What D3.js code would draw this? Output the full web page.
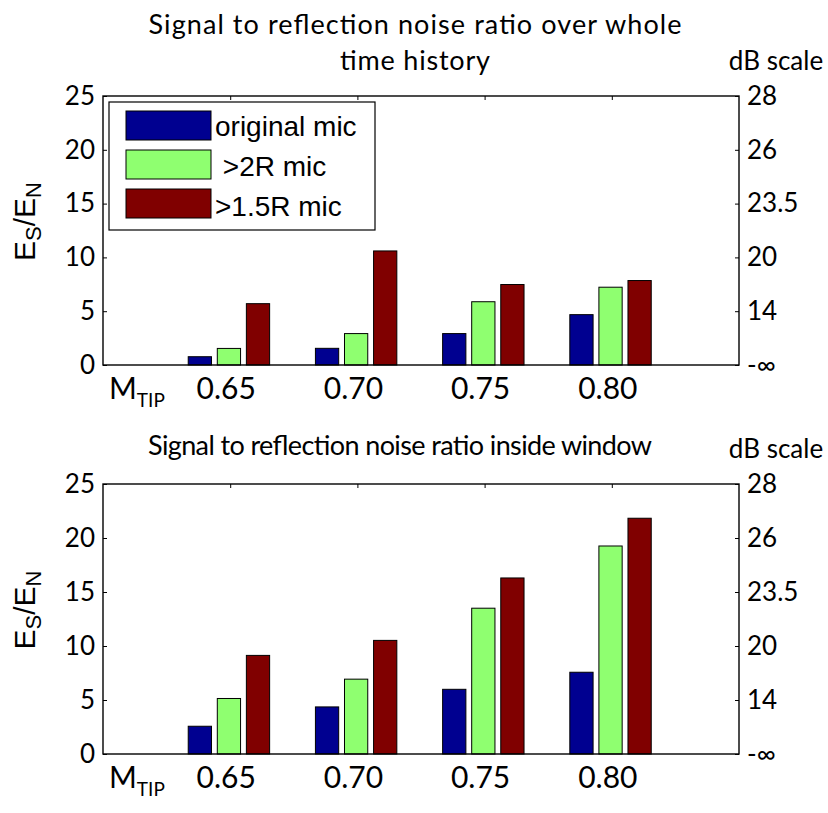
<!DOCTYPE html>
<html><head><meta charset="utf-8">
<script src="https://cdn.jsdelivr.net/npm/d3@7"></script>
<style>
html,body{margin:0;padding:0;background:#fff;}
svg{display:block;}
</style></head>
<body>
<script>
// ---- data ----
const categories = ["0.65", "0.70", "0.75", "0.80"];
const seriesNames = ["original mic", " >2R mic", ">1.5R mic"];
const seriesColors = ["#000090", "#8fff70", "#800000"];
// Panel 1: over whole time history
const wholeOriginal = [0.77, 1.55, 2.92, 4.68];
const whole2R      = [1.54, 2.92, 5.88, 7.23];
const whole15R     = [5.70, 10.60, 7.48, 7.85];
// Panel 2: inside window
const windowOriginal = [2.57, 4.36, 5.99, 7.57];
const window2R      = [5.14, 6.93, 13.50, 19.26];
const window15R     = [9.13, 10.52, 16.30, 21.83];
const leftTicks = [0, 5, 10, 15, 20, 25];
const rightTickLabels = ["-\u221e", "14", "20", "23.5", "26", "28"];
const titles = [["Signal to reflection noise ratio over whole", "time history"],
                ["Signal to reflection noise ratio inside window"]];

const W = 828, H = 813;
const svg = d3.select("body").append("svg").attr("width", W).attr("height", H);
const numFont = "Lato, 'Open Sans', sans-serif";
const arialFont = "'Liberation Sans', Arial, sans-serif";

const x = d3.scaleLinear().domain([0, 5]).range([103, 739]);
const sub = d3.scaleBand().domain(d3.range(3)).range([-0.33, 0.31]).paddingInner(0.2).paddingOuter(0);

function panel(top, bottom, data, titleLines, titleCfg, dbBaseline, withLegend) {
  const y = d3.scaleLinear().domain([0, 25]).range([bottom, top]);
  const g = svg.append("g");

  // titles
  titleLines.forEach((t, i) => {
    const c = titleCfg[i];
    const tx = g.append("text").attr("x", c.cx).attr("y", c.y)
      .attr("text-anchor", "middle").attr("font-family", numFont).attr("font-size", 27)
      .text(t);
    if (c.len) tx.attr("textLength", c.len).attr("lengthAdjust", "spacing");
  });
  g.append("text").attr("x", 776).attr("y", dbBaseline).attr("text-anchor", "middle")
    .attr("font-family", numFont).attr("font-size", 26).text("dB scale");

  // bars
  data.forEach((vals, s) => {
    g.selectAll(null).data(vals).enter().append("rect")
      .attr("x", (d, i) => x(i + 1 + sub(s)))
      .attr("width", x(sub.bandwidth()) - x(0))
      .attr("y", d => y(d))
      .attr("height", d => y(0) - y(d))
      .attr("fill", seriesColors[s])
      .attr("stroke", "#000").attr("stroke-width", 1);
  });

  // box
  g.append("rect").attr("x", x(0)).attr("y", y(25)).attr("width", x(5) - x(0)).attr("height", y(0) - y(25))
    .attr("fill", "none").attr("stroke", "#000").attr("stroke-width", 1.4);

  // left axis
  const la = g.append("g").attr("transform", `translate(${x(0)},0)`)
    .call(d3.axisLeft(y).tickValues(leftTicks).tickSize(-4).tickSizeOuter(0).tickPadding(8));
  la.select(".domain").remove();
  la.selectAll("text").attr("font-family", numFont).attr("font-size", 26).attr("fill", "#000");

  // right axis (dB labels)
  const ra = g.append("g").attr("transform", `translate(${x(5)},0)`)
    .call(d3.axisRight(y).tickValues(leftTicks).tickSize(-4).tickSizeOuter(0).tickPadding(8)
      .tickFormat((d, i) => rightTickLabels[i]));
  ra.select(".domain").remove();
  ra.selectAll("text").attr("font-family", numFont).attr("font-size", 26).attr("fill", "#000");

  // top ticks
  const ta = g.append("g").attr("transform", `translate(0,${y(25)})`)
    .call(d3.axisTop(x).tickValues([1, 2, 3, 4]).tickSize(-4).tickSizeOuter(0).tickFormat(""));
  ta.select(".domain").remove();

  // x labels
  const xl = g.append("text").attr("x", 109).attr("y", bottom + 34)
    .attr("font-family", numFont).attr("font-size", 30);
  xl.append("tspan").text("M");
  xl.append("tspan").attr("font-size", 19).attr("dy", 8).text("TIP");
  g.selectAll(null).data(categories).enter().append("text")
    .attr("x", (d, i) => x(i + 1) - 4).attr("y", bottom + 34)
    .attr("text-anchor", "middle").attr("font-family", numFont).attr("font-size", 30)
    .text(d => d);

  // y label
  const yl = g.append("text")
    .attr("transform", `translate(35,${(top + bottom) / 2 - 9}) rotate(-90)`)
    .attr("text-anchor", "middle").attr("font-family", arialFont).attr("font-size", 30);
  yl.append("tspan").text("E");
  yl.append("tspan").attr("font-size", 22).attr("dy", 6).text("S");
  yl.append("tspan").attr("dy", -6).text("/E");
  yl.append("tspan").attr("font-size", 22).attr("dy", 6).text("N");

  if (withLegend) {
    const lg = g.append("g");
    lg.append("rect").attr("x", 109).attr("y", 102).attr("width", 266).attr("height", 128)
      .attr("fill", "#fff").attr("stroke", "#000").attr("stroke-width", 1.2);
    seriesNames.forEach((n, i) => {
      lg.append("rect").attr("x", 126).attr("y", 111 + i * 39).attr("width", 85).attr("height", 29)
        .attr("fill", seriesColors[i]).attr("stroke", "#000").attr("stroke-width", 1);
      lg.append("text").attr("x", 215).attr("y", 136 + i * 40).attr("font-family", arialFont)
        .attr("font-size", 28).attr("xml:space", "preserve").style("white-space", "pre").text(n);
    });
  }
}

panel(96, 365, [wholeOriginal, whole2R, whole15R], titles[0],
  [{cx: 415, y: 34, len: 533}, {cx: 415, y: 70, len: 150}], 70, true);
panel(484, 754, [windowOriginal, window2R, window15R], titles[1],
  [{cx: 400, y: 455, len: 504}], 458, false);
</script>
</body></html>
